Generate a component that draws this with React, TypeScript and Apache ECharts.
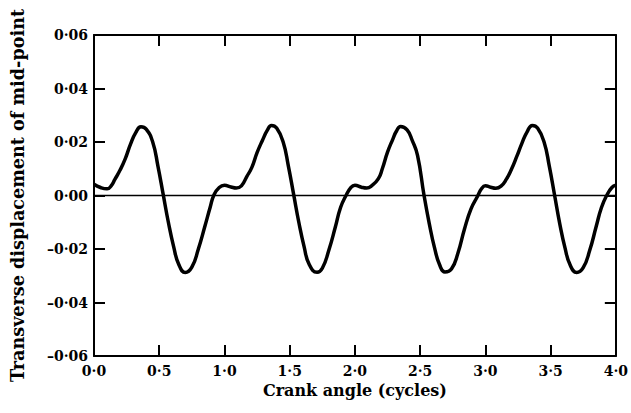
import React, { useEffect, useRef } from "react";
import * as echarts from "echarts";

// Crank angle (cycles)
const crankAngle: number[] = [
  0.0, 0.05, 0.1, 0.13, 0.16, 0.2, 0.24, 0.28, 0.32, 0.36, 0.4, 0.45, 0.49, 0.53, 0.57, 0.61, 0.65, 0.7, 0.75, 0.8, 0.85, 0.89, 0.92, 0.96,
  1.0, 1.05, 1.09, 1.13, 1.17, 1.21, 1.25, 1.29, 1.33, 1.36, 1.4, 1.45, 1.49, 1.53, 1.57, 1.61, 1.65, 1.71, 1.75, 1.8, 1.85, 1.89, 1.93, 1.97,
  2.0, 2.05, 2.09, 2.13, 2.18, 2.21, 2.25, 2.29, 2.32, 2.35, 2.4, 2.44, 2.48, 2.53, 2.57, 2.61, 2.65, 2.69, 2.74, 2.79, 2.84, 2.89, 2.94, 2.97,
  3.0, 3.04, 3.08, 3.12, 3.16, 3.2, 3.24, 3.28, 3.32, 3.36, 3.4, 3.45, 3.49, 3.53, 3.57, 3.61, 3.65, 3.7, 3.75, 3.8, 3.85, 3.89, 3.93, 3.97,
  4.0,
];

// Transverse displacement of mid-point
const displacement: number[] = [
  0.0042, 0.003, 0.0025, 0.0035, 0.006, 0.0095, 0.0138, 0.0192, 0.0235, 0.0257, 0.0248, 0.02, 0.011, 0.0005, -0.01, -0.019, -0.0258, -0.0288, -0.0268, -0.02, -0.0115, -0.0045, 0.0003, 0.003,
  0.0038, 0.0032, 0.0028, 0.0036, 0.007, 0.0105, 0.016, 0.0205, 0.0245, 0.0262, 0.0252, 0.02, 0.011, 0.0005, -0.01, -0.019, -0.0258, -0.0287, -0.0272, -0.0205, -0.0118, -0.0045, -0.0002, 0.003,
  0.0038, 0.0031, 0.0028, 0.0037, 0.0063, 0.01, 0.0162, 0.021, 0.0242, 0.0258, 0.0245, 0.0205, 0.015, 0.0, -0.0105, -0.0195, -0.026, -0.0286, -0.0275, -0.0215, -0.0125, -0.005, -0.0003, 0.0025,
  0.0036, 0.0031, 0.0027, 0.0035, 0.006, 0.0098, 0.0145, 0.0195, 0.0238, 0.0262, 0.0252, 0.02, 0.011, 0.0003, -0.0105, -0.0195, -0.026, -0.0288, -0.027, -0.0205, -0.0115, -0.0045, 0.0, 0.003,
  0.0038,
];

const FONT = "DejaVu Serif";

const fmtX = (v: number) => v.toFixed(1).replace(".", "\u00b7");
const fmtY = (v: number) => {
  const s = Math.abs(v).toFixed(2).replace(".", "\u00b7");
  return v < -1e-9 ? "\u2013" + s : s;
};

export default function App() {
  const ref = useRef<HTMLDivElement>(null);
  useEffect(() => {
    document.body.style.margin = "0";
    if (!ref.current) return;
    const chart = echarts.init(ref.current, null, { renderer: "svg" });
    const axisLine = { show: true, onZero: false, lineStyle: { color: "#000", width: 2 } };
    const axisTick = { show: true, inside: true, length: 11, lineStyle: { color: "#000", width: 2 } };
    const labelStyle = { color: "#000", fontFamily: FONT, fontSize: 14, fontWeight: "bold" };
    chart.setOption({
      animation: false,
      backgroundColor: "#fff",
      grid: { left: 92, right: 10, top: 35, bottom: 57, containLabel: false },
      xAxis: [
        {
          type: "value",
          position: "bottom",
          min: 0,
          max: 4,
          interval: 0.5,
          name: "Crank angle (cycles)",
          nameLocation: "middle",
          nameGap: 26,
          nameTextStyle: { color: "#000", fontFamily: FONT, fontSize: 16, fontWeight: "bold" },
          axisLine,
          axisTick,
          axisLabel: { ...labelStyle, margin: 8, formatter: fmtX },
          splitLine: { show: false },
        },
        {
          type: "value",
          position: "top",
          min: 0,
          max: 4,
          interval: 0.5,
          axisLine,
          axisTick,
          axisLabel: { show: false },
          splitLine: { show: false },
        },
      ],
      yAxis: [
        {
          type: "value",
          position: "left",
          min: -0.06,
          max: 0.06,
          interval: 0.02,
          name: "Transverse displacement of mid-point",
          nameLocation: "middle",
          nameGap: 68,
          nameTextStyle: { color: "#000", fontFamily: FONT, fontSize: 17.6, fontWeight: "bold" },
          axisLine,
          axisTick,
          axisLabel: { ...labelStyle, margin: 6, formatter: fmtY },
          splitLine: { show: false },
        },
        {
          type: "value",
          position: "right",
          min: -0.06,
          max: 0.06,
          interval: 0.02,
          axisLine,
          axisTick,
          axisLabel: { show: false },
          splitLine: { show: false },
        },
      ],
      series: [
        {
          type: "line",
          xAxisIndex: 0,
          yAxisIndex: 0,
          data: crankAngle.map((x, i) => [x, displacement[i]]),
          smooth: 0.5,
          showSymbol: false,
          lineStyle: { color: "#000", width: 3.5 },
          markLine: {
            silent: true,
            symbol: ["none", "none"],
            label: { show: false },
            lineStyle: { color: "#000", width: 1.3, type: "solid" },
            data: [{ yAxis: 0 }],
          },
        },
      ],
    });
    return () => chart.dispose();
  }, []);
  return <div ref={ref} style={{ width: 631, height: 413 }} />;
}
